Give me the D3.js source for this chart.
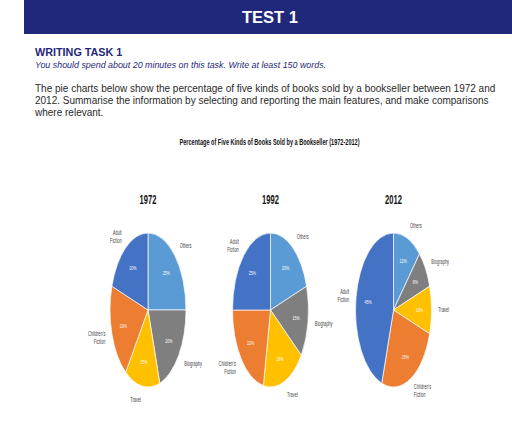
<!DOCTYPE html>
<html><head><meta charset="utf-8">
<script src="https://cdn.jsdelivr.net/npm/d3@7"></script>
<style>body{margin:0;background:#fff}svg{display:block}</style>
</head><body>
<script>
const categories = ["Others", "Biography", "Travel", "Children's Fiction", "Adult Fiction"];
const years = ["1972", "1992", "2012"];
const values1972 = [25, 20, 15, 20, 20];
const values1992 = [20, 15, 18, 22, 25];
const values2012 = [12, 8, 10, 25, 45];
const seriesValues = [values1972, values1992, values2012];
const colors = ["#5b9bd5", "#7f7f7f", "#ffc000", "#ed7d31", "#4472c4"];
const labelLines = [["Others"], ["Biography"], ["Travel"], ["Children's", "Fiction"], ["Adult", "Fiction"]];
const chartTitle = "Percentage of Five Kinds of Books Sold by a Bookseller (1972-2012)";

const W = 512, H = 425;
const svg = d3.select("body").append("svg").attr("width", W).attr("height", H);
const sans = "Liberation Sans, Arial, sans-serif";

// Header banner
svg.append("rect").attr("x", 24).attr("y", 0).attr("width", W - 24).attr("height", 34).attr("fill", "#1f287a");
svg.append("text").attr("x", 270).attr("y", 23).attr("text-anchor", "middle")
  .attr("font-family", sans).attr("font-weight", "bold")
  .attr("font-size", 16.5).attr("fill", "#fff").text("TEST 1");

svg.append("text").attr("x", 35).attr("y", 56)
  .attr("font-family", sans).attr("font-weight", "bold")
  .attr("font-size", 10.8).attr("fill", "#1f287a").text("WRITING TASK 1");
svg.append("text").attr("x", 35).attr("y", 68)
  .attr("font-family", sans).attr("font-style", "italic")
  .attr("font-size", 8.9).attr("fill", "#1f287a")
  .text("You should spend about 20 minutes on this task. Write at least 150 words.");

const para = [
  "The pie charts below show the percentage of five kinds of books sold by a bookseller between 1972 and",
  "2012. Summarise the information by selecting and reporting the main features, and make comparisons",
  "where relevant."
];
para.forEach((t, i) => {
  svg.append("text").attr("x", 35).attr("y", 91.5 + i * 12)
    .attr("font-family", sans)
    .attr("font-size", 10).attr("fill", "#2a2a2a").text(t);
});

// helper: horizontally squeezed text
function sq(x, y, lines, opts) {
  const g = svg.append("g").attr("transform", `translate(${x},${y}) scale(${opts.sx},1)`);
  const t = g.append("text").attr("text-anchor", opts.anchor || "middle")
    .attr("font-family", sans).attr("font-size", opts.size)
    .attr("font-weight", opts.weight || "normal").attr("fill", opts.fill);
  const n = lines.length;
  lines.forEach((ln, k) => {
    t.append("tspan").attr("x", 0).attr("y", (k - (n - 1) / 2) * (opts.lh || 0)).text(ln);
  });
  return t;
}

sq(269.5, 144.5, [chartTitle], {sx: 0.68, size: 8.2, weight: "bold", fill: "#111"});

// Pies
const centersX = d3.scaleOrdinal().domain(years).range([148, 270.5, 393.5]);
const cy = 310, ry = 77, rx = 38;
const pie = d3.pie().sort(null).value(d => d);
const arc = d3.arc().innerRadius(0).outerRadius(ry);

years.forEach((yr, yi) => {
  const cx = centersX(yr);
  sq(cx, 204.3, [yr], {sx: 0.59, size: 12.8, weight: "bold", fill: "#111"});

  const arcs = pie(seriesValues[yi]);
  const g = svg.append("g").attr("transform", `translate(${cx},${cy}) scale(${rx / ry},1)`);
  g.selectAll("path").data(arcs).enter().append("path")
    .attr("d", arc).attr("fill", (d, i) => colors[i])
    .attr("stroke", "#fff").attr("stroke-width", 0.7).attr("vector-effect", "non-scaling-stroke");

  arcs.forEach((d, i) => {
    const a = (d.startAngle + d.endAngle) / 2;
    const s = Math.sin(a), c = Math.cos(a);
    sq(cx + rx * 0.68 * s, cy - ry * 0.68 * c + 2, [d.data + "%"],
       {sx: 0.6, size: 6, fill: "#fff"});
    const lx = cx + rx * 1.18 * s, ly = cy - ry * 1.18 * c + 2.2;
    sq(lx, ly, labelLines[i], {sx: 0.58, size: 6.8, fill: "#444", lh: 8.3,
       anchor: s >= 0 ? "start" : "end"});
  });
});
</script>
</body></html>
